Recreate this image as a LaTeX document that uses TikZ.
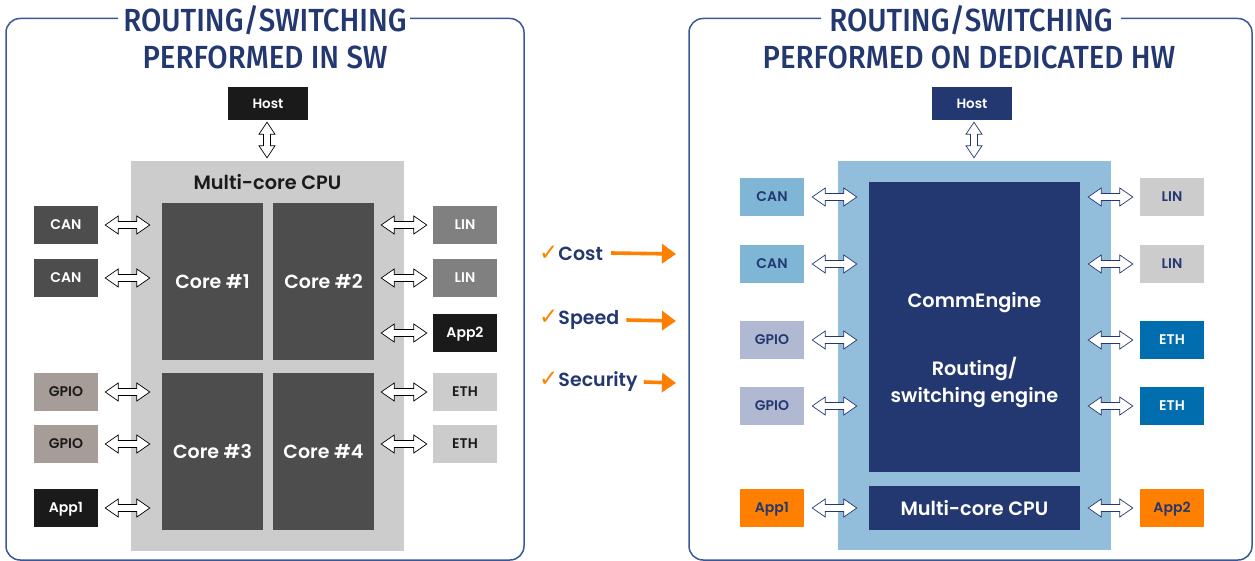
\documentclass[tikz,border=0pt]{standalone}
\usepackage{fontspec}
\usetikzlibrary{calc,arrows.meta}

\newfontfamily\bodyfont{Poppins SemiBold}
\newfontfamily\titlefont[FakeStretch=0.92]{Fira Sans Medium}
\newfontfamily\symfont{DejaVu Sans}

\definecolor{navy}{HTML}{233870}
\definecolor{framec}{HTML}{3A5796}
\definecolor{blk}{HTML}{1A1A1A}
\definecolor{dgray}{HTML}{4D4D4D}
\definecolor{mgray}{HTML}{808080}
\definecolor{lgray}{HTML}{CCCCCC}
\definecolor{taupe}{HTML}{A69D99}
\definecolor{skyb}{HTML}{92BEDC}
\definecolor{canb}{HTML}{7FB6D5}
\definecolor{lav}{HTML}{B0B9D1}
\definecolor{ethb}{HTML}{006DAE}
\definecolor{orng}{HTML}{FF8000}

% outline double arrow between two named coordinates (horizontal)
\newcommand\hduplex[3][]{%
  \draw[duplex,#1] (#2) -- ($(#2)+(13,-9)$) -- ($(#2)+(13,-3.5)$)
    -- ($(#3)+(-13,-3.5)$) -- ($(#3)+(-13,-9)$) -- (#3)
    -- ($(#3)+(-13,9)$) -- ($(#3)+(-13,3.5)$)
    -- ($(#2)+(13,3.5)$) -- ($(#2)+(13,9)$) -- cycle;}
% outline double arrow between two named coordinates (vertical, #2 on top)
\newcommand\vduplex[3][]{%
  \draw[duplex,#1] (#2) -- ($(#2)+(-8,12)$) -- ($(#2)+(-3.5,12)$)
    -- ($(#3)+(-3.5,-12)$) -- ($(#3)+(-8,-12)$) -- (#3)
    -- ($(#3)+(8,-12)$) -- ($(#3)+(3.5,-12)$)
    -- ($(#2)+(3.5,12)$) -- ($(#2)+(8,12)$) -- cycle;}
% peripheral on the left of its target
\newcommand\linkright[5][]{%
  \coordinate (lkA) at ($(#2.east)+(#3,0)$);
  \coordinate (lkB0) at ($(#4.west)+(-#5,0)$);
  \coordinate (lkB) at (lkA -| lkB0);
  \hduplex[#1]{lkA}{lkB}}
% peripheral on the right of its source
\newcommand\linkleft[5][]{%
  \coordinate (lkB) at ($(#4.west)+(-#5,0)$);
  \coordinate (lkA0) at ($(#2.east)+(#3,0)$);
  \coordinate (lkA) at (lkB -| lkA0);
  \hduplex[#1]{lkA}{lkB}}
% orange tick in front of a benefit
\newcommand\tick{{\symfont\color{orng}\fontsize{23}{24}\selectfont ✓}}

\begin{document}
\begin{tikzpicture}[x=1pt,y=-1pt,
  frame/.style={draw=framec, line width=1.5pt, rounded corners=14pt},
  title/.style={font=\titlefont\fontsize{32}{36}\selectfont, text=navy, inner sep=0},
  block/.style={rectangle, inner sep=0, draw=none},
  periph/.style={block, minimum width=64, minimum height=38,
    font=\bodyfont\fontsize{14}{16}\selectfont, text height=9.8pt, text depth=0pt},
  hostbox/.style={periph, minimum width=80, minimum height=33, text=white,
    font=\bodyfont\fontsize{13.5}{16}\selectfont},
  core/.style={block, fill=dgray, text=white, minimum width=101, minimum height=157,
    font=\bodyfont\fontsize{19}{22}\selectfont},
  biglabel/.style={inner sep=0, font=\bodyfont\fontsize{19.3}{23}\selectfont},
  duplex/.style={draw=black, fill=white, line width=0.7pt, line join=miter},
  perk/.style={inner sep=0, anchor=west, text=navy, font=\bodyfont\fontsize{19}{22}\selectfont},
  gain/.style={draw=orng, line width=3.6pt, -{Triangle[length=14pt,width=19pt]}}
]
\useasboundingbox (0,0) rectangle (1255,561);

% ---------------- software routing ----------------
\draw[frame] (118,18.5) -- (6,18.5) -- (6,560) -- (524,560) -- (524,18.5) -- (410,18.5);
\node[title] (tL1) at (265,20) {ROUTING/SWITCHING};
\node[title] (tL2) at (265,57) {PERFORMED IN SW};

\node[hostbox, fill=blk] (hostL) at (268,103.5) {Host};
\node[block, fill=lgray, minimum width=273, minimum height=390] (cpuL) at (267.5,356) {};
\node[biglabel, text=blk] (cpuLlab) at (267.5,182) {Multi-core CPU};
\node[core] (c1) at (212.5,281.5) {Core \#1};
\node[core] (c2) at (323.5,281.5) {Core \#2};
\node[core] (c3) at (212.5,451.5) {Core \#3};
\node[core] (c4) at (323.5,451.5) {Core \#4};

\node[periph, fill=dgray, text=white] (canL1) at (66,225) {CAN};
\node[periph, fill=dgray, text=white] (canL2) at (66,278) {CAN};
\node[periph, fill=taupe, text=blk] (gpioL1) at (66,392) {GPIO};
\node[periph, fill=taupe, text=blk] (gpioL2) at (66,444) {GPIO};
\node[periph, fill=blk, text=white] (appL1) at (66,508) {App1};

\node[periph, fill=mgray, text=white] (linL1) at (465,225) {LIN};
\node[periph, fill=mgray, text=white] (linL2) at (465,278) {LIN};
\node[periph, fill=blk, text=white] (appL2) at (465,333) {App2};
\node[periph, fill=lgray, text=blk] (ethL1) at (465,392) {ETH};
\node[periph, fill=lgray, text=blk] (ethL2) at (465,444) {ETH};

\linkright{canL1}{7}{c1}{12}
\linkright{canL2}{7}{c1}{12}
\linkright{gpioL1}{7}{c3}{12}
\linkright{gpioL2}{7}{c3}{12}
\linkright{appL1}{7}{c3}{12}
\linkleft{c2}{7}{linL1}{6}
\linkleft{c2}{7}{linL2}{6}
\linkleft{c2}{7}{appL2}{6}
\linkleft{c4}{7}{ethL1}{6}
\linkleft{c4}{7}{ethL2}{6}

\coordinate (hLa) at ($(hostL.south)+(-1,2)$);
\coordinate (hLb) at (hLa |- cpuL.north);
\coordinate (hLc) at ($(hLb)+(0,-3)$);
\vduplex{hLa}{hLc}

% ---------------- benefits ----------------
\node[perk] (cost) at (539,253) {\tick Cost};
\node[perk] (speed) at (539,320) {\tick Speed};
\node[perk] (secu) at (539,382) {\tick Security};
\coordinate (costEnd) at (676,254);
\coordinate (speedEnd) at (676,321);
\coordinate (secuEnd) at (676,383);
\draw[gain] ($(cost.east)+(8,0)$ |- costEnd) -- (costEnd);
\draw[gain] ($(speed.east)+(7,0)$ |- speedEnd) -- (speedEnd);
\draw[gain] ($(secu.east)+(6,0)$ |- secuEnd) -- (secuEnd);

% ---------------- hardware routing ----------------
\draw[frame] (821,18.5) -- (689,18.5) -- (689,560) -- (1252,560) -- (1252,18.5) -- (1121,18.5);
\node[title] (tR1) at (971,20) {ROUTING/SWITCHING};
\node[title] (tR2) at (969,57) {PERFORMED ON DEDICATED HW};

\node[hostbox, fill=navy] (hostR) at (972,103.5) {Host};
\node[block, fill=skyb, minimum width=273, minimum height=389] (hw) at (974.5,355.5) {};
\node[block, fill=navy, minimum width=211, minimum height=290] (ce) at (974.5,327) {};
\node[biglabel, text=white] (ceName) at (974.5,303) {CommEngine};
\node[biglabel, text=white, align=center] (ceRole) at (974.5,382) {Routing/\\[4pt]switching engine};
\node[block, fill=navy, minimum width=211, minimum height=44, text=white,
  font=\bodyfont\fontsize{19.3}{23}\selectfont] (cpuR) at (974.5,508) {Multi-core CPU};

\node[periph, fill=canb, text=navy] (canR1) at (772,197) {CAN};
\node[periph, fill=canb, text=navy] (canR2) at (772,264) {CAN};
\node[periph, fill=lav, text=navy] (gpioR1) at (772,340) {GPIO};
\node[periph, fill=lav, text=navy] (gpioR2) at (772,406) {GPIO};
\node[periph, fill=orng, text=navy] (appR1) at (772,508) {App1};

\node[periph, fill=lgray, text=navy] (linR1) at (1172,197) {LIN};
\node[periph, fill=lgray, text=navy] (linR2) at (1172,264) {LIN};
\node[periph, fill=ethb, text=white] (ethR1) at (1172,340) {ETH};
\node[periph, fill=ethb, text=white] (ethR2) at (1172,406) {ETH};
\node[periph, fill=orng, text=navy] (appR2) at (1172,508) {App2};

\linkright[draw=navy]{canR1}{8}{ce}{12}
\linkright[draw=navy]{canR2}{8}{ce}{12}
\linkright[draw=navy]{gpioR1}{8}{ce}{12}
\linkright[draw=navy]{gpioR2}{8}{ce}{12}
\linkright[draw=navy]{appR1}{8}{cpuR}{12}
\linkleft[draw=navy]{ce}{8}{linR1}{7}
\linkleft[draw=navy]{ce}{8}{linR2}{7}
\linkleft[draw=navy]{ce}{8}{ethR1}{7}
\linkleft[draw=navy]{ce}{8}{ethR2}{7}
\linkleft[draw=navy]{cpuR}{8}{appR2}{7}

\coordinate (hRa) at ($(hostR.south)+(2,2)$);
\coordinate (hRb) at (hRa |- hw.north);
\coordinate (hRc) at ($(hRb)+(0,-3)$);
\vduplex[draw=navy]{hRa}{hRc}
\end{tikzpicture}
\end{document}
